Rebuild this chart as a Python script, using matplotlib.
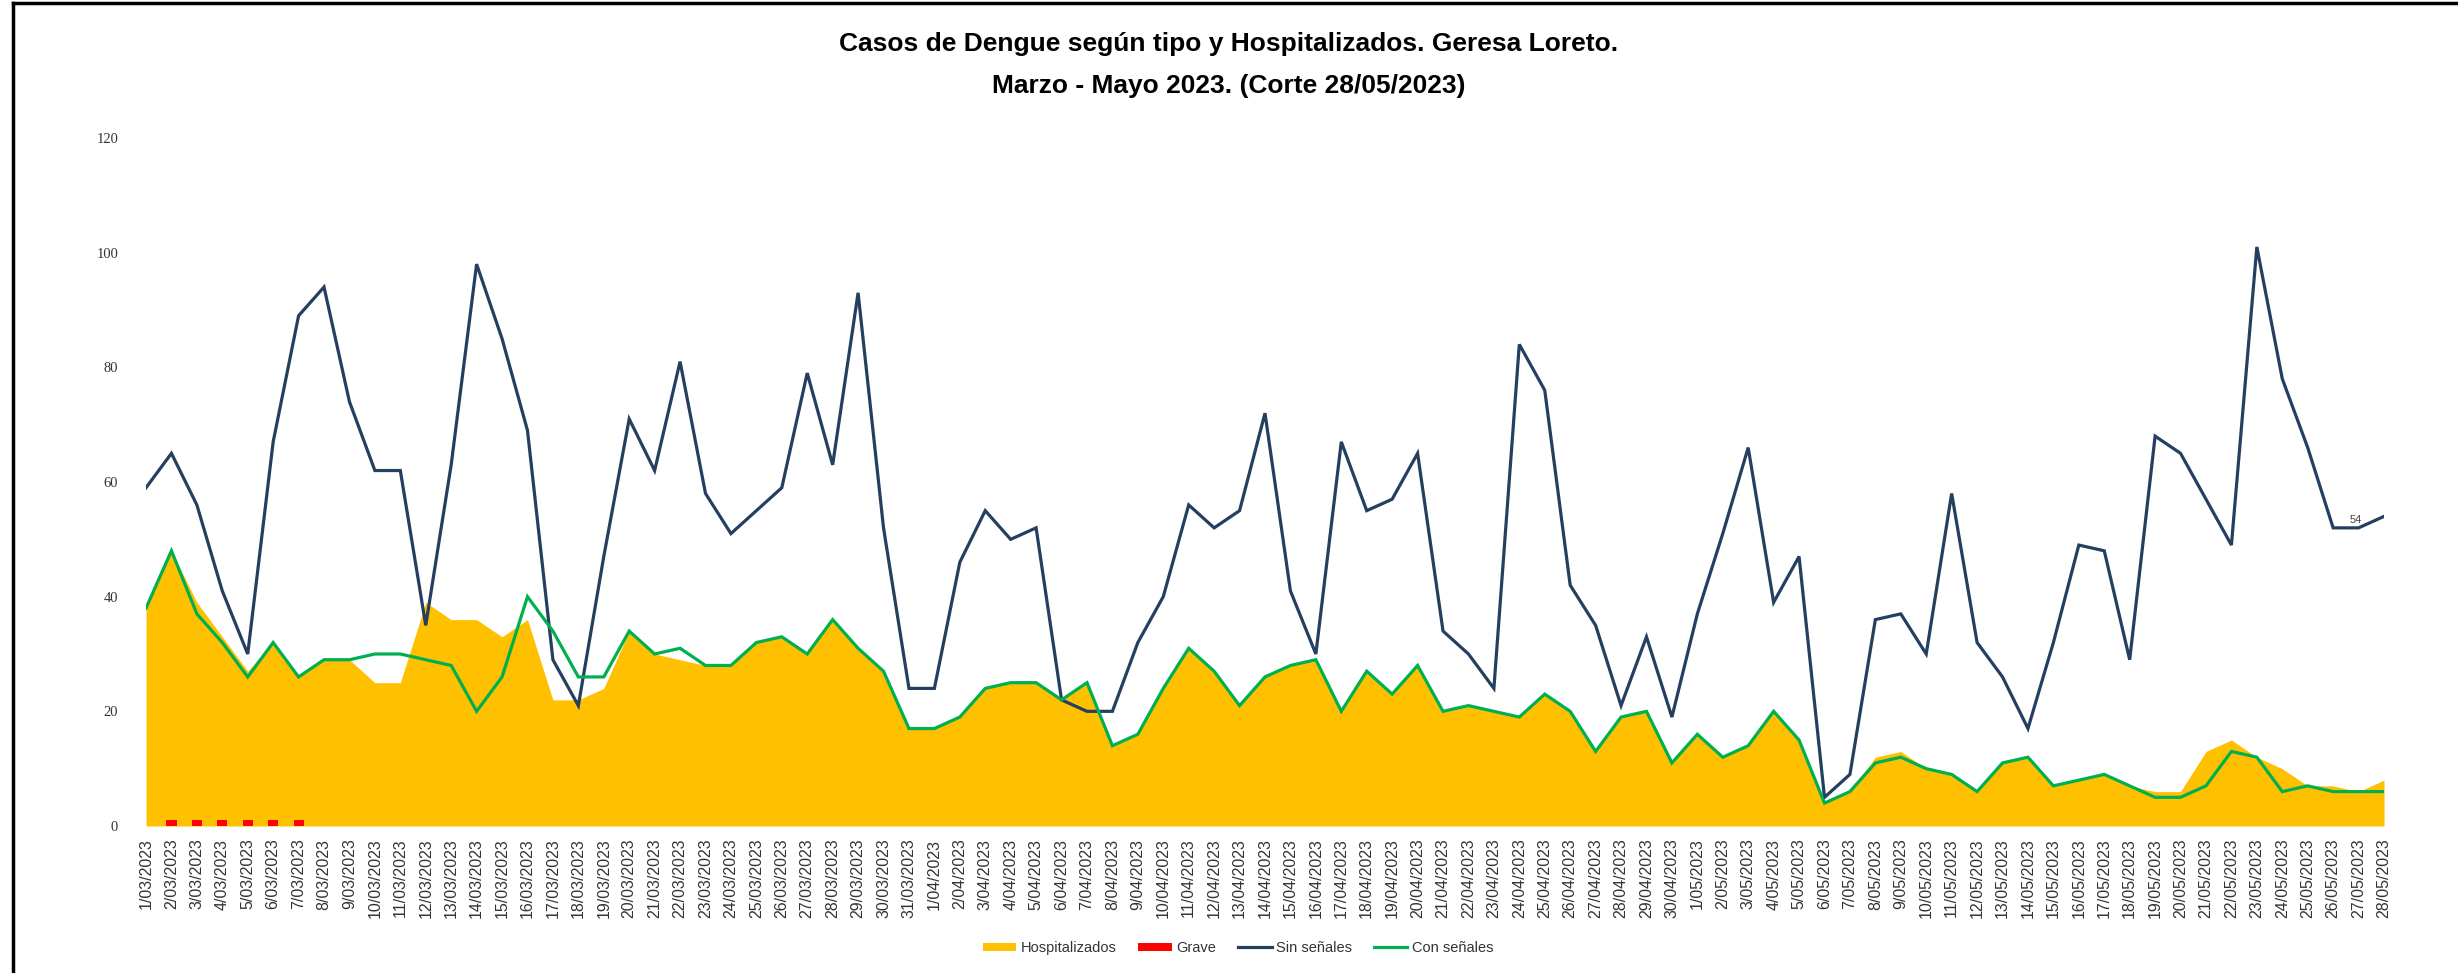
import matplotlib
matplotlib.use("Agg")
import matplotlib.pyplot as plt
from matplotlib import font_manager
from matplotlib.lines import Line2D
from matplotlib.patches import Patch
import numpy as np

# ---------------- data ----------------
dates = ([f"{d}/03/2023" for d in range(1, 32)] +
         [f"{d}/04/2023" for d in range(1, 31)] +
         [f"{d}/05/2023" for d in range(1, 29)])

hospitalizados = [38, 48, 39, 33, 27, 32, 26, 29, 29, 25, 25, 39, 36, 36, 33, 36, 22, 22, 24, 34,
                  30, 29, 28, 28, 32, 33, 30, 36, 31, 27, 17, 17, 19, 24, 25, 25, 22, 25, 14, 16,
                  24, 31, 27, 21, 26, 28, 29, 20, 27, 23, 28, 20, 21, 20, 19, 23, 20, 13, 19, 20,
                  11, 16, 12, 14, 20, 15, 4, 6, 12, 13, 10, 9, 6, 11, 12, 7, 8, 9, 7, 6,
                  6, 13, 15, 12, 10, 7, 7, 6, 8]

grave = [0, 1, 1, 1, 1, 1, 1] + [0] * 82

sin_senales = [59, 65, 56, 41, 30, 67, 89, 94, 74, 62, 62, 35, 63, 98, 85, 69, 29, 21, 47, 71,
               62, 81, 58, 51, 55, 59, 79, 63, 93, 52, 24, 24, 46, 55, 50, 52, 22, 20, 20, 32,
               40, 56, 52, 55, 72, 41, 30, 67, 55, 57, 65, 34, 30, 24, 84, 76, 42, 35, 21, 33,
               19, 37, 51, 66, 39, 47, 5, 9, 36, 37, 30, 58, 32, 26, 17, 32, 49, 48, 29, 68,
               65, 57, 49, 101, 78, 66, 52, 52, 54]

con_senales = [38, 48, 37, 32, 26, 32, 26, 29, 29, 30, 30, 29, 28, 20, 26, 40, 34, 26, 26, 34,
               30, 31, 28, 28, 32, 33, 30, 36, 31, 27, 17, 17, 19, 24, 25, 25, 22, 25, 14, 16,
               24, 31, 27, 21, 26, 28, 29, 20, 27, 23, 28, 20, 21, 20, 19, 23, 20, 13, 19, 20,
               11, 16, 12, 14, 20, 15, 4, 6, 11, 12, 10, 9, 6, 11, 12, 7, 8, 9, 7, 5,
               5, 7, 13, 12, 6, 7, 6, 6, 6]

y_ticks = [0, 20, 40, 60, 80, 100, 120]

title_line1 = "Casos de Dengue según tipo y Hospitalizados. Geresa Loreto."
title_line2 = "Marzo - Mayo 2023. (Corte 28/05/2023)"

# ---------------- fonts ----------------
available = {f.name for f in font_manager.fontManager.ttflist}
narrow = "Liberation Sans Narrow" in available
sans = "Liberation Sans Narrow" if narrow else "Liberation Sans"
serif = "Liberation Serif" if "Liberation Serif" in available else "DejaVu Serif"
plt.rcParams["font.family"] = [sans, "DejaVu Sans"]

# ---------------- figure ----------------
W, H = 2458, 973
fig = plt.figure(figsize=(W / 100, H / 100), dpi=100)
fig.patch.set_facecolor("white")

left, right = 146 / W, 2384 / W
bottom, top = 1 - 826 / H, 1 - 138 / H
ax = fig.add_axes([left, bottom, right - left, top - bottom])

x = np.arange(len(dates))
orange = "#FFC000"
red = "#FF0000"
navy = "#243F60"
green = "#00B050"

ax.fill_between(x, 0, hospitalizados, color=orange, linewidth=0, zorder=1)
ax.bar(x, grave, width=0.4, color=red, zorder=2)
ax.plot(x, sin_senales, color=navy, linewidth=2.3, zorder=3, solid_joinstyle="miter")
ax.plot(x, con_senales, color=green, linewidth=2.3, zorder=4, solid_joinstyle="miter")

ax.annotate(str(sin_senales[-1]), xy=(x[-1], sin_senales[-1]), xytext=(-28, -4),
            textcoords="offset pixels", ha="center", va="center", fontsize=8,
            color="#404040", zorder=5)

ax.set_xlim(0, len(dates) - 1)
ax.set_ylim(0, 120)
ax.set_yticks(y_ticks)
ax.set_yticklabels([str(v) for v in y_ticks], fontfamily=serif, fontsize=10.5, color="#333333")
ax.set_xticks(x)
ax.set_xticklabels(dates, rotation=90, fontsize=12.5 if narrow else 11.5, color="#333333")
ax.tick_params(axis="both", length=0)
ax.tick_params(axis="y", pad=20)
ax.tick_params(axis="x", pad=9)
for s in ax.spines.values():
    s.set_visible(False)

# title
tsize = 22 if narrow else 19
fig.text(0.5, 1 - 44 / H, title_line1, ha="center", va="center", fontsize=tsize,
         fontweight="bold", color="#000000")
fig.text(0.5, 1 - 86 / H, title_line2, ha="center", va="center", fontsize=tsize,
         fontweight="bold", color="#000000")

# legend
handles = [Patch(facecolor=orange, edgecolor="none", label="Hospitalizados"),
           Patch(facecolor=red, edgecolor="none", label="Grave"),
           Line2D([], [], color=navy, linewidth=2.3, label="Sin señales"),
           Line2D([], [], color=green, linewidth=2.3, label="Con señales")]
fig.legend(handles=handles, loc="center", bbox_to_anchor=(1238 / W, 1 - 948 / H), ncol=4,
           frameon=False, fontsize=10.5, handlelength=2.3, handleheight=0.5,
           handletextpad=0.3, columnspacing=1.5, labelcolor="#333333")

# outer frame (left and top edges visible in the reference)
fig.add_artist(Line2D([13 / W, 13 / W], [0, 1 - 3 / H], color="black", linewidth=2.5,
                      transform=fig.transFigure))
fig.add_artist(Line2D([13 / W, 1], [1 - 3 / H, 1 - 3 / H], color="black", linewidth=2.5,
                      transform=fig.transFigure))

fig.savefig("out.png", dpi=100, facecolor="white")
